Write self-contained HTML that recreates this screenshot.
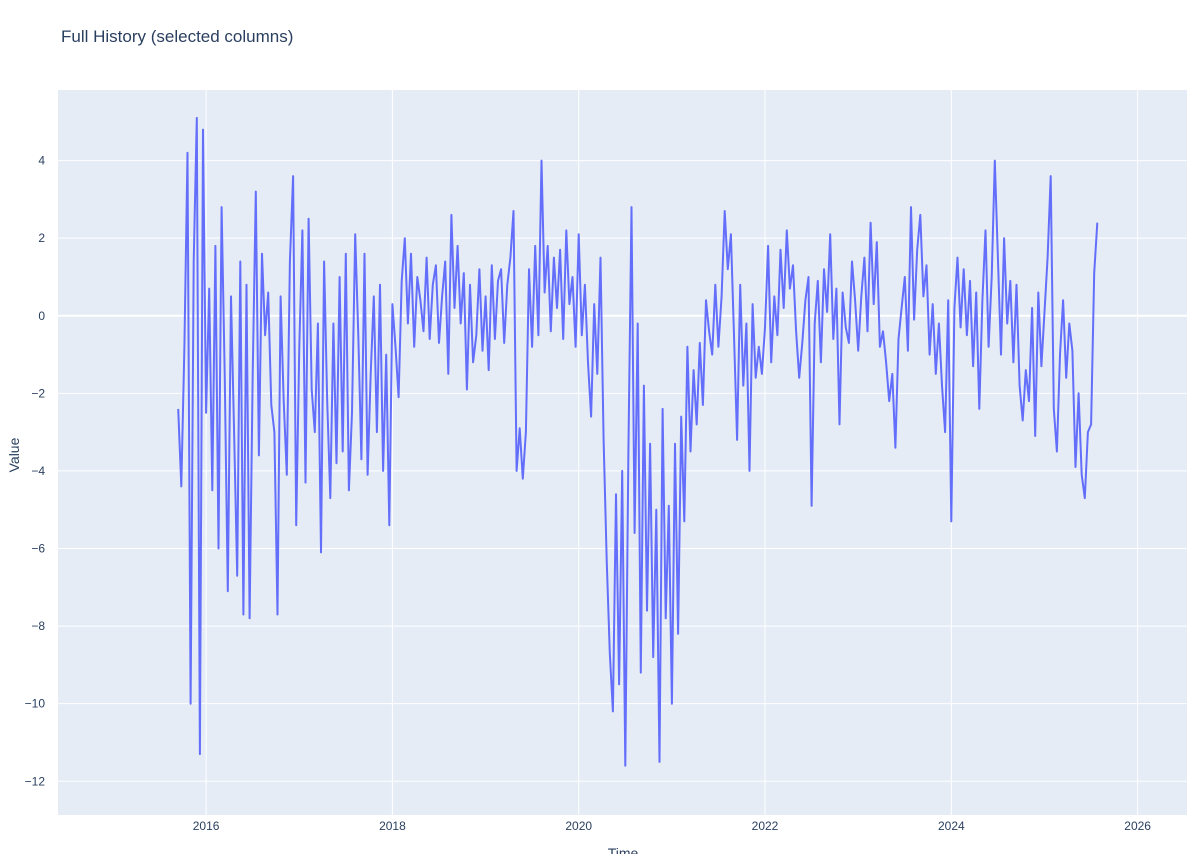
<!DOCTYPE html>
<html><head><meta charset="utf-8"><style>
body{margin:0;background:#fff;font-family:"Liberation Sans",sans-serif;}
svg text{font-family:"Liberation Sans",sans-serif;fill:#2a3f5f;}
</style></head><body>
<svg id="chart" width="1200" height="854" xmlns="http://www.w3.org/2000/svg">
<text x="61" y="42" font-size="17">Full History (selected columns)</text>
<rect x="58" y="90" width="1129" height="725" fill="#e5ecf6"/>
<g id="grid"></g>
<g id="ticks"></g>
<path id="line" fill="none" stroke="#636efa" stroke-width="2" stroke-linejoin="round"/>
<text transform="translate(19,455) rotate(-90)" text-anchor="middle" font-size="14">Value</text>
<text x="623" y="858" text-anchor="middle" font-size="14">Time</text>
</svg>
<script>
const startYear = 2015.7;
const stepYears = 1/30;
const values = [
-2.4,-4.4,-0.8,4.2,-10.0,1.4,5.1,-11.3,4.8,
-2.5,0.7,-4.5,1.8,-6.0,2.8,-1.5,-7.1,0.5,-3.0,-6.7,1.4,-7.7,0.8,-7.8,
-1.5,3.2,-3.6,1.6,-0.5,0.6,-2.3,-3.0,-7.7,0.5,-2.2,-4.1,1.4,3.6,-5.4,
-0.8,2.2,-4.3,2.5,-1.9,-3.0,-0.2,-6.1,1.4,-2.2,-4.7,-0.2,-3.8,1.0,-3.5,
1.6,-4.5,-2.5,2.1,-0.5,-3.7,1.6,-4.1,-1.5,0.5,-3.0,0.8,-4.0,-1.0,-5.4,
0.3,-0.8,-2.1,0.9,2.0,-0.2,1.6,-0.8,1.0,0.4,-0.4,1.5,-0.6,0.8,1.3,
-0.7,0.5,1.4,-1.5,2.6,0.2,1.8,-0.2,1.1,-1.9,0.8,-1.2,-0.5,1.2,-0.9,
0.5,-1.4,1.3,-0.6,0.9,1.2,-0.7,0.8,1.5,2.7,-4.0,-2.9,-4.2,-3.0,1.2,
-0.8,1.8,-0.5,4.0,0.6,1.8,-0.4,1.5,0.2,1.7,-0.6,2.2,0.3,1.0,-0.8,
2.1,-0.5,0.8,-1.2,-2.6,0.3,-1.5,1.5,-3.2,-6.3,-8.7,-10.2,-4.6,-9.5,-4.0,
-11.6,-3.5,2.8,-5.6,-0.2,-9.2,-1.8,-7.6,-3.3,-8.8,-5.0,-11.5,-2.4,-7.8,-4.9,
-10.0,-3.3,-8.2,-2.6,-5.3,-0.8,-3.5,-1.4,-2.8,-0.7,-2.3,0.4,-0.4,-1.0,0.8,
-0.8,0.5,2.7,1.2,2.1,-0.5,-3.2,0.8,-1.8,-0.2,-4.0,0.3,-1.6,-0.8,-1.5,
-0.3,1.8,-1.2,0.5,-0.5,1.7,0.2,2.2,0.7,1.3,-0.4,-1.6,-0.7,0.4,1.0,
-4.9,-0.2,0.9,-1.2,1.2,0.1,2.1,-0.6,0.7,-2.8,0.6,-0.3,-0.7,1.4,0.4,
-0.9,0.5,1.5,-0.4,2.4,0.3,1.9,-0.8,-0.4,-1.2,-2.2,-1.5,-3.4,-0.6,0.2,
1.0,-0.9,2.8,-0.1,1.7,2.6,0.5,1.3,-1.0,0.3,-1.5,-0.2,-1.8,-3.0,0.4,
-5.3,0.2,1.5,-0.3,1.2,-0.5,0.9,-1.3,0.6,-2.4,0.4,2.2,-0.8,1.0,4.0,
1.5,-1.0,2.0,-0.2,0.9,-1.2,0.8,-1.8,-2.7,-1.4,-2.2,0.2,-3.1,0.6,-1.3,
0.1,1.5,3.6,-2.4,-3.5,-1.0,0.4,-1.6,-0.2,-0.9,-3.9,-2.0,-4.1,-4.7,-3.0,
-2.8,1.1,2.4
];
const yTicks = [4,2,0,-2,-4,-6,-8,-10,-12];
const yTickLabels = ["4","2","0","−2","−4","−6","−8","−10","−12"];
const xTicks = [2016,2018,2020,2022,2024,2026];
const xTickLabels = ["2016","2018","2020","2022","2024","2026"];

const X0=58,X1=1187,Y0=90,Y1=815;
const xMin=2014.41,xMax=2026.53,yMin=-12.87,yMax=5.82;
const xs=v=>X0+(v-xMin)/(xMax-xMin)*(X1-X0);
const ys=v=>Y1-(v-yMin)/(yMax-yMin)*(Y1-Y0);
const NS="http://www.w3.org/2000/svg";
const grid=document.getElementById('grid'), ticks=document.getElementById('ticks');
yTicks.forEach((t,i)=>{
  const l=document.createElementNS(NS,'line');
  
  
  l.setAttribute('x1',X0);l.setAttribute('x2',X1);l.setAttribute('y1',ys(t));l.setAttribute('y2',ys(t));
  l.setAttribute('stroke','#fff');l.setAttribute('stroke-width',t===0?2:1);
  grid.appendChild(l);
  const tx=document.createElementNS(NS,'text');
  
  
  tx.setAttribute('x',X0-13);tx.setAttribute('y',ys(t)+4);tx.setAttribute('text-anchor','end');tx.setAttribute('font-size','12');
  tx.textContent=yTickLabels[i];ticks.appendChild(tx);
});
xTicks.forEach((t,i)=>{
  const l=document.createElementNS(NS,'line');
  
  
  l.setAttribute('x1',xs(t));l.setAttribute('x2',xs(t));l.setAttribute('y1',Y0);l.setAttribute('y2',Y1);
  l.setAttribute('stroke','#fff');l.setAttribute('stroke-width',1);
  grid.appendChild(l);
  const tx=document.createElementNS(NS,'text');
  
  
  tx.setAttribute('x',xs(t));tx.setAttribute('y',Y1+15);tx.setAttribute('text-anchor','middle');tx.setAttribute('font-size','12');
  tx.textContent=xTickLabels[i];ticks.appendChild(tx);
});
let d='';
values.forEach((v,i)=>{d+=(i?'L':'M')+xs(startYear+i*stepYears).toFixed(1)+','+ys(v).toFixed(1);});
document.getElementById('line').setAttribute('d',d);
</script>
</body></html>
